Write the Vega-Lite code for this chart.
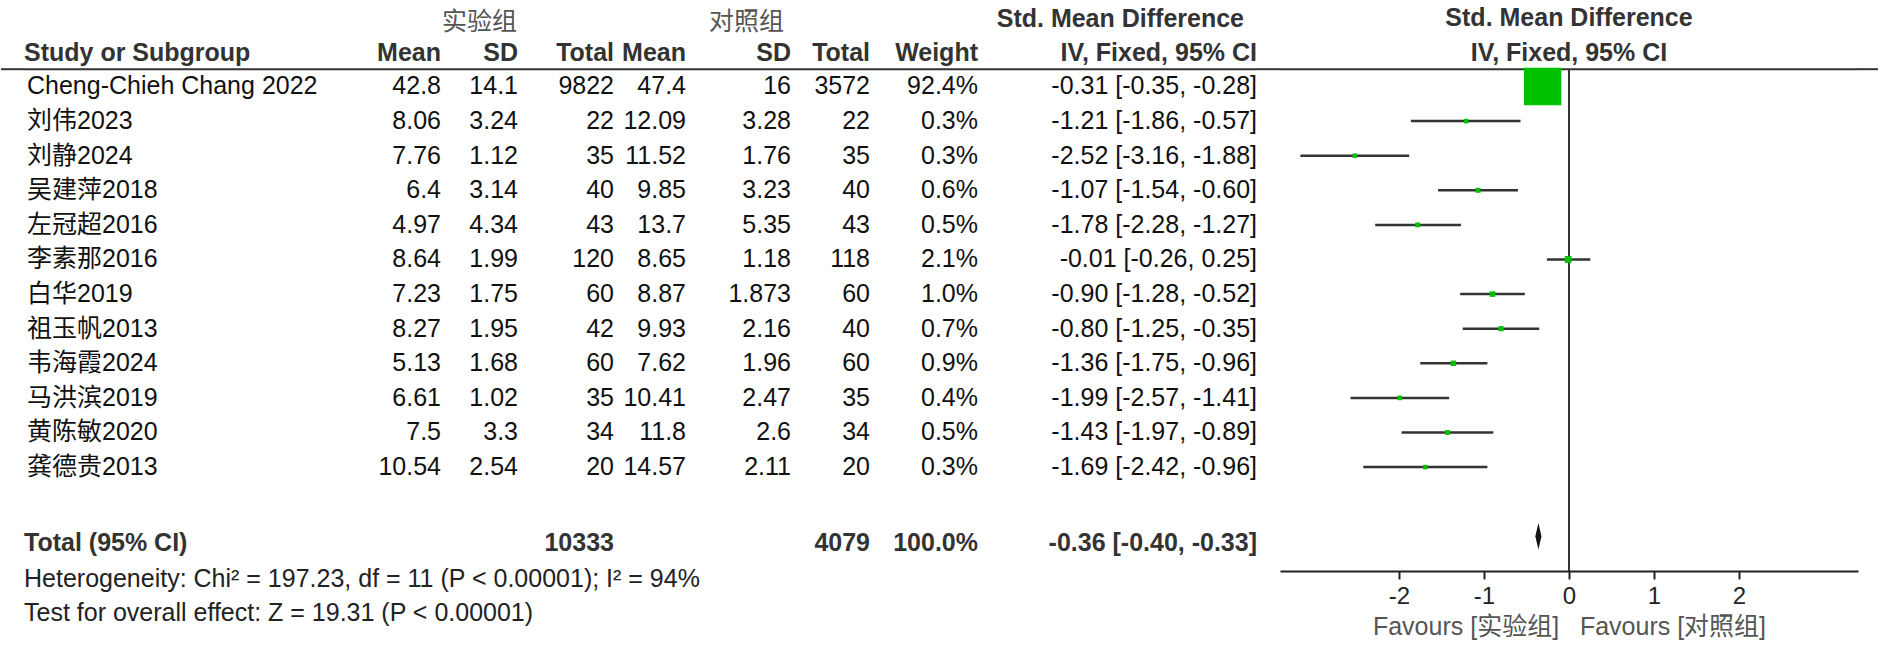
{
"$schema": "https://vega.github.io/schema/vega-lite/v6.json",
"background": "white",
"padding": 0,
"bounds": "flush",
"spacing": 0,
"config": {"view": {"stroke": null}, "text": {"font": "Liberation Sans, Noto Sans CJK SC"}},
"datasets": {
"studies": [
{"study":"Cheng-Chieh Chang 2022","em":42.8,"esd":14.1,"en":9822,"cm":47.4,"csd":16,"cn":3572,"w":0.924,"smd":-0.31,"lo":-0.35,"hi":-0.28,"ci":"-0.31 [-0.35, -0.28]"},
{"study":"刘伟2023","em":8.06,"esd":3.24,"en":22,"cm":12.09,"csd":3.28,"cn":22,"w":0.003,"smd":-1.21,"lo":-1.86,"hi":-0.57,"ci":"-1.21 [-1.86, -0.57]"},
{"study":"刘静2024","em":7.76,"esd":1.12,"en":35,"cm":11.52,"csd":1.76,"cn":35,"w":0.003,"smd":-2.52,"lo":-3.16,"hi":-1.88,"ci":"-2.52 [-3.16, -1.88]"},
{"study":"吴建萍2018","em":6.4,"esd":3.14,"en":40,"cm":9.85,"csd":3.23,"cn":40,"w":0.006,"smd":-1.07,"lo":-1.54,"hi":-0.6,"ci":"-1.07 [-1.54, -0.60]"},
{"study":"左冠超2016","em":4.97,"esd":4.34,"en":43,"cm":13.7,"csd":5.35,"cn":43,"w":0.005,"smd":-1.78,"lo":-2.28,"hi":-1.27,"ci":"-1.78 [-2.28, -1.27]"},
{"study":"李素那2016","em":8.64,"esd":1.99,"en":120,"cm":8.65,"csd":1.18,"cn":118,"w":0.021,"smd":-0.01,"lo":-0.26,"hi":0.25,"ci":"-0.01 [-0.26, 0.25]"},
{"study":"白华2019","em":7.23,"esd":1.75,"en":60,"cm":8.87,"csd":1.873,"cn":60,"w":0.01,"smd":-0.9,"lo":-1.28,"hi":-0.52,"ci":"-0.90 [-1.28, -0.52]"},
{"study":"祖玉帆2013","em":8.27,"esd":1.95,"en":42,"cm":9.93,"csd":2.16,"cn":40,"w":0.007,"smd":-0.8,"lo":-1.25,"hi":-0.35,"ci":"-0.80 [-1.25, -0.35]"},
{"study":"韦海霞2024","em":5.13,"esd":1.68,"en":60,"cm":7.62,"csd":1.96,"cn":60,"w":0.009,"smd":-1.36,"lo":-1.75,"hi":-0.96,"ci":"-1.36 [-1.75, -0.96]"},
{"study":"马洪滨2019","em":6.61,"esd":1.02,"en":35,"cm":10.41,"csd":2.47,"cn":35,"w":0.004,"smd":-1.99,"lo":-2.57,"hi":-1.41,"ci":"-1.99 [-2.57, -1.41]"},
{"study":"黄陈敏2020","em":7.5,"esd":3.3,"en":34,"cm":11.8,"csd":2.6,"cn":34,"w":0.005,"smd":-1.43,"lo":-1.97,"hi":-0.89,"ci":"-1.43 [-1.97, -0.89]"},
{"study":"龚德贵2013","em":10.54,"esd":2.54,"en":20,"cm":14.57,"csd":2.11,"cn":20,"w":0.003,"smd":-1.69,"lo":-2.42,"hi":-0.96,"ci":"-1.69 [-2.42, -0.96]"}
],
"total": [{"study":"Total (95% CI)","en":10333,"cn":4079,"w":1,"smd":-0.36,"lo":-0.4,"hi":-0.33,"ci":"-0.36 [-0.40, -0.33]"}],
"headers": [
{"row":"h1","col":"e_sd","label":"实验组"},
{"row":"h1","col":"c_sd","label":"对照组"},
{"row":"h1","col":"ci","label":"Std. Mean Difference"},
{"row":"h1","col":"forest","label":"Std. Mean Difference"},
{"row":"h2","col":"name","label":"Study or Subgroup"},
{"row":"h2","col":"e_mean","label":"Mean"},
{"row":"h2","col":"e_sd","label":"SD"},
{"row":"h2","col":"e_total","label":"Total"},
{"row":"h2","col":"c_mean","label":"Mean"},
{"row":"h2","col":"c_sd","label":"SD"},
{"row":"h2","col":"c_total","label":"Total"},
{"row":"h2","col":"weight","label":"Weight"},
{"row":"h2","col":"ci","label":"IV, Fixed, 95% CI"},
{"row":"h2","col":"forest","label":"IV, Fixed, 95% CI"}
],
"notes": [
{"row":"het","label":"Heterogeneity: Chi² = 197.23, df = 11 (P < 0.00001); I² = 94%"},
{"row":"test","label":"Test for overall effect: Z = 19.31 (P < 0.00001)"}
],
"one": [{}]
},
"hconcat": [
{"width": 23, "height": 656, "data": {"name": "one"}, "mark": {"type": "rule", "color": "#333", "strokeWidth": 2},
 "encoding": {"y": {"datum": "h2", "type": "nominal", "bandPosition": 1, "axis": null, "scale": {"type":"band","domain":["h1","h2","Cheng-Chieh Chang 2022","刘伟2023","刘静2024","吴建萍2018","左冠超2016","李素那2016","白华2019","祖玉帆2013","韦海霞2024","马洪滨2019","黄陈敏2020","龚德贵2013","gap","Total (95% CI)","het","test"],"paddingInner":0,"paddingOuter":0.48,"align":0}}}},
{"width": 347, "height": 656, "layer": [
 {"data": {"name": "headers"}, "transform": [{"filter": "datum.col === 'name'"}],
  "mark": {"type": "text", "align": "left", "baseline": "middle", "dy": 1, "fontSize": 25, "fontWeight": "bold", "color": "#333", "font": "Liberation Sans"},
  "encoding": {"x": {"value": 0}, "y": {"field": "row", "type": "nominal", "axis": null, "scale": {"type":"band","domain":["h1","h2","Cheng-Chieh Chang 2022","刘伟2023","刘静2024","吴建萍2018","左冠超2016","李素那2016","白华2019","祖玉帆2013","韦海霞2024","马洪滨2019","黄陈敏2020","龚德贵2013","gap","Total (95% CI)","het","test"],"paddingInner":0,"paddingOuter":0.48,"align":0}}, "text": {"field": "label"}}},
 {"data": {"name": "studies"},
  "mark": {"type": "text", "align": "left", "baseline": "middle", "dx": 3, "fontSize": 25, "color": "#111"},
  "encoding": {"x": {"value": 0}, "y": {"field": "study", "type": "nominal", "axis": null}, "text": {"field": "study"}}},
 {"data": {"name": "total"},
  "mark": {"type": "text", "align": "left", "baseline": "middle", "dy": 7, "fontSize": 25, "fontWeight": "bold", "color": "#333", "font": "Liberation Sans"},
  "encoding": {"x": {"value": 0}, "y": {"field": "study", "type": "nominal", "axis": null}, "text": {"field": "study"}}},
 {"data": {"name": "notes"},
  "mark": {"type": "text", "align": "left", "baseline": "middle", "dy": 8, "fontSize": 25, "color": "#222", "font": "Liberation Sans"},
  "encoding": {"x": {"value": 0}, "y": {"field": "row", "type": "nominal", "axis": null}, "text": {"field": "label"}}},
 {"data": {"name": "one"}, "mark": {"type": "rule", "color": "#333", "strokeWidth": 2},
  "encoding": {"y": {"datum": "h2", "type": "nominal", "bandPosition": 1, "axis": null}}}
]},
{"width": 70, "height": 656, "layer": [
 {"data": {"name": "headers"}, "transform": [{"filter": "datum.col === 'e_mean'"}],
  "mark": {"type": "text", "align": "right", "baseline": "middle", "dy": 1, "fontSize": 25, "fontWeight": "bold", "color": "#333", "font": "Liberation Sans"},
  "encoding": {"x": {"value": "width"}, "y": {"field": "row", "type": "nominal", "axis": null, "scale": {"type":"band","domain":["h1","h2","Cheng-Chieh Chang 2022","刘伟2023","刘静2024","吴建萍2018","左冠超2016","李素那2016","白华2019","祖玉帆2013","韦海霞2024","马洪滨2019","黄陈敏2020","龚德贵2013","gap","Total (95% CI)","het","test"],"paddingInner":0,"paddingOuter":0.48,"align":0}}, "text": {"field": "label"}}},
 {"data": {"name": "studies"},
  "mark": {"type": "text", "align": "right", "baseline": "middle", "fontSize": 25, "color": "#111"},
  "encoding": {"x": {"value": "width"}, "y": {"field": "study", "type": "nominal", "axis": null}, "text": {"field": "em", "type": "nominal"}}},
 {"data": {"name": "one"}, "mark": {"type": "rule", "color": "#333", "strokeWidth": 2},
  "encoding": {"y": {"datum": "h2", "type": "nominal", "bandPosition": 1, "axis": null}}}
]},
{"width": 77, "height": 656, "layer": [
 {"data": {"name": "headers"}, "transform": [{"filter": "datum.col === 'e_sd' && datum.row === 'h1'"}],
  "mark": {"type": "text", "align": "center", "baseline": "middle", "dy": 5, "fontSize": 25, "color": "#555", "font": "Noto Sans CJK SC"},
  "encoding": {"y": {"field": "row", "type": "nominal", "axis": null, "scale": {"type":"band","domain":["h1","h2","Cheng-Chieh Chang 2022","刘伟2023","刘静2024","吴建萍2018","左冠超2016","李素那2016","白华2019","祖玉帆2013","韦海霞2024","马洪滨2019","黄陈敏2020","龚德贵2013","gap","Total (95% CI)","het","test"],"paddingInner":0,"paddingOuter":0.48,"align":0}}, "text": {"field": "label"}}},
 {"data": {"name": "headers"}, "transform": [{"filter": "datum.col === 'e_sd' && datum.row === 'h2'"}],
  "mark": {"type": "text", "align": "right", "baseline": "middle", "dy": 1, "fontSize": 25, "fontWeight": "bold", "color": "#333", "font": "Liberation Sans"},
  "encoding": {"x": {"value": "width"}, "y": {"field": "row", "type": "nominal", "axis": null}, "text": {"field": "label"}}},
 {"data": {"name": "studies"},
  "mark": {"type": "text", "align": "right", "baseline": "middle", "fontSize": 25, "color": "#111"},
  "encoding": {"x": {"value": "width"}, "y": {"field": "study", "type": "nominal", "axis": null}, "text": {"field": "esd", "type": "nominal"}}},
 {"data": {"name": "one"}, "mark": {"type": "rule", "color": "#333", "strokeWidth": 2},
  "encoding": {"y": {"datum": "h2", "type": "nominal", "bandPosition": 1, "axis": null}}}
]},
{"width": 96, "height": 656, "layer": [
 {"data": {"name": "headers"}, "transform": [{"filter": "datum.col === 'e_total'"}],
  "mark": {"type": "text", "align": "right", "baseline": "middle", "dy": 1, "fontSize": 25, "fontWeight": "bold", "color": "#333", "font": "Liberation Sans"},
  "encoding": {"x": {"value": "width"}, "y": {"field": "row", "type": "nominal", "axis": null, "scale": {"type":"band","domain":["h1","h2","Cheng-Chieh Chang 2022","刘伟2023","刘静2024","吴建萍2018","左冠超2016","李素那2016","白华2019","祖玉帆2013","韦海霞2024","马洪滨2019","黄陈敏2020","龚德贵2013","gap","Total (95% CI)","het","test"],"paddingInner":0,"paddingOuter":0.48,"align":0}}, "text": {"field": "label"}}},
 {"data": {"name": "studies"},
  "mark": {"type": "text", "align": "right", "baseline": "middle", "fontSize": 25, "color": "#111"},
  "encoding": {"x": {"value": "width"}, "y": {"field": "study", "type": "nominal", "axis": null}, "text": {"field": "en", "type": "nominal"}}},
 {"data": {"name": "total"},
  "mark": {"type": "text", "align": "right", "baseline": "middle", "dy": 7, "fontSize": 25, "fontWeight": "bold", "color": "#333", "font": "Liberation Sans"},
  "encoding": {"x": {"value": "width"}, "y": {"field": "study", "type": "nominal", "axis": null}, "text": {"field": "en", "type": "nominal"}}},
 {"data": {"name": "one"}, "mark": {"type": "rule", "color": "#333", "strokeWidth": 2},
  "encoding": {"y": {"datum": "h2", "type": "nominal", "bandPosition": 1, "axis": null}}}
]},
{"width": 72, "height": 656, "layer": [
 {"data": {"name": "headers"}, "transform": [{"filter": "datum.col === 'c_mean'"}],
  "mark": {"type": "text", "align": "right", "baseline": "middle", "dy": 1, "fontSize": 25, "fontWeight": "bold", "color": "#333", "font": "Liberation Sans"},
  "encoding": {"x": {"value": "width"}, "y": {"field": "row", "type": "nominal", "axis": null, "scale": {"type":"band","domain":["h1","h2","Cheng-Chieh Chang 2022","刘伟2023","刘静2024","吴建萍2018","左冠超2016","李素那2016","白华2019","祖玉帆2013","韦海霞2024","马洪滨2019","黄陈敏2020","龚德贵2013","gap","Total (95% CI)","het","test"],"paddingInner":0,"paddingOuter":0.48,"align":0}}, "text": {"field": "label"}}},
 {"data": {"name": "studies"},
  "mark": {"type": "text", "align": "right", "baseline": "middle", "fontSize": 25, "color": "#111"},
  "encoding": {"x": {"value": "width"}, "y": {"field": "study", "type": "nominal", "axis": null}, "text": {"field": "cm", "type": "nominal"}}},
 {"data": {"name": "one"}, "mark": {"type": "rule", "color": "#333", "strokeWidth": 2},
  "encoding": {"y": {"datum": "h2", "type": "nominal", "bandPosition": 1, "axis": null}}}
]},
{"width": 105, "height": 656, "layer": [
 {"data": {"name": "headers"}, "transform": [{"filter": "datum.col === 'c_sd' && datum.row === 'h1'"}],
  "mark": {"type": "text", "align": "center", "baseline": "middle", "dy": 5, "dx": 8, "fontSize": 25, "color": "#555", "font": "Noto Sans CJK SC"},
  "encoding": {"y": {"field": "row", "type": "nominal", "axis": null, "scale": {"type":"band","domain":["h1","h2","Cheng-Chieh Chang 2022","刘伟2023","刘静2024","吴建萍2018","左冠超2016","李素那2016","白华2019","祖玉帆2013","韦海霞2024","马洪滨2019","黄陈敏2020","龚德贵2013","gap","Total (95% CI)","het","test"],"paddingInner":0,"paddingOuter":0.48,"align":0}}, "text": {"field": "label"}}},
 {"data": {"name": "headers"}, "transform": [{"filter": "datum.col === 'c_sd' && datum.row === 'h2'"}],
  "mark": {"type": "text", "align": "right", "baseline": "middle", "dy": 1, "fontSize": 25, "fontWeight": "bold", "color": "#333", "font": "Liberation Sans"},
  "encoding": {"x": {"value": "width"}, "y": {"field": "row", "type": "nominal", "axis": null}, "text": {"field": "label"}}},
 {"data": {"name": "studies"},
  "mark": {"type": "text", "align": "right", "baseline": "middle", "fontSize": 25, "color": "#111"},
  "encoding": {"x": {"value": "width"}, "y": {"field": "study", "type": "nominal", "axis": null}, "text": {"field": "csd", "type": "nominal"}}},
 {"data": {"name": "one"}, "mark": {"type": "rule", "color": "#333", "strokeWidth": 2},
  "encoding": {"y": {"datum": "h2", "type": "nominal", "bandPosition": 1, "axis": null}}}
]},
{"width": 79, "height": 656, "layer": [
 {"data": {"name": "headers"}, "transform": [{"filter": "datum.col === 'c_total'"}],
  "mark": {"type": "text", "align": "right", "baseline": "middle", "dy": 1, "fontSize": 25, "fontWeight": "bold", "color": "#333", "font": "Liberation Sans"},
  "encoding": {"x": {"value": "width"}, "y": {"field": "row", "type": "nominal", "axis": null, "scale": {"type":"band","domain":["h1","h2","Cheng-Chieh Chang 2022","刘伟2023","刘静2024","吴建萍2018","左冠超2016","李素那2016","白华2019","祖玉帆2013","韦海霞2024","马洪滨2019","黄陈敏2020","龚德贵2013","gap","Total (95% CI)","het","test"],"paddingInner":0,"paddingOuter":0.48,"align":0}}, "text": {"field": "label"}}},
 {"data": {"name": "studies"},
  "mark": {"type": "text", "align": "right", "baseline": "middle", "fontSize": 25, "color": "#111"},
  "encoding": {"x": {"value": "width"}, "y": {"field": "study", "type": "nominal", "axis": null}, "text": {"field": "cn", "type": "nominal"}}},
 {"data": {"name": "total"},
  "mark": {"type": "text", "align": "right", "baseline": "middle", "dy": 7, "fontSize": 25, "fontWeight": "bold", "color": "#333", "font": "Liberation Sans"},
  "encoding": {"x": {"value": "width"}, "y": {"field": "study", "type": "nominal", "axis": null}, "text": {"field": "cn", "type": "nominal"}}},
 {"data": {"name": "one"}, "mark": {"type": "rule", "color": "#333", "strokeWidth": 2},
  "encoding": {"y": {"datum": "h2", "type": "nominal", "bandPosition": 1, "axis": null}}}
]},
{"width": 108, "height": 656, "layer": [
 {"data": {"name": "headers"}, "transform": [{"filter": "datum.col === 'weight'"}],
  "mark": {"type": "text", "align": "right", "baseline": "middle", "dy": 1, "fontSize": 25, "fontWeight": "bold", "color": "#333", "font": "Liberation Sans"},
  "encoding": {"x": {"value": "width"}, "y": {"field": "row", "type": "nominal", "axis": null, "scale": {"type":"band","domain":["h1","h2","Cheng-Chieh Chang 2022","刘伟2023","刘静2024","吴建萍2018","左冠超2016","李素那2016","白华2019","祖玉帆2013","韦海霞2024","马洪滨2019","黄陈敏2020","龚德贵2013","gap","Total (95% CI)","het","test"],"paddingInner":0,"paddingOuter":0.48,"align":0}}, "text": {"field": "label"}}},
 {"data": {"name": "studies"},
  "mark": {"type": "text", "align": "right", "baseline": "middle", "fontSize": 25, "color": "#111"},
  "encoding": {"x": {"value": "width"}, "y": {"field": "study", "type": "nominal", "axis": null}, "text": {"field": "w", "type": "quantitative", "format": ".1%"}}},
 {"data": {"name": "total"},
  "mark": {"type": "text", "align": "right", "baseline": "middle", "dy": 7, "fontSize": 25, "fontWeight": "bold", "color": "#333", "font": "Liberation Sans"},
  "encoding": {"x": {"value": "width"}, "y": {"field": "study", "type": "nominal", "axis": null}, "text": {"field": "w", "type": "quantitative", "format": ".1%"}}},
 {"data": {"name": "one"}, "mark": {"type": "rule", "color": "#333", "strokeWidth": 2},
  "encoding": {"y": {"datum": "h2", "type": "nominal", "bandPosition": 1, "axis": null}}}
]},
{"width": 279, "height": 656, "layer": [
 {"data": {"name": "headers"}, "transform": [{"filter": "datum.col === 'ci' && datum.row === 'h1'"}],
  "mark": {"type": "text", "align": "right", "baseline": "middle", "dy": 2, "dx": -13, "fontSize": 25, "fontWeight": "bold", "color": "#333", "font": "Liberation Sans"},
  "encoding": {"x": {"value": "width"}, "y": {"field": "row", "type": "nominal", "axis": null, "scale": {"type":"band","domain":["h1","h2","Cheng-Chieh Chang 2022","刘伟2023","刘静2024","吴建萍2018","左冠超2016","李素那2016","白华2019","祖玉帆2013","韦海霞2024","马洪滨2019","黄陈敏2020","龚德贵2013","gap","Total (95% CI)","het","test"],"paddingInner":0,"paddingOuter":0.48,"align":0}}, "text": {"field": "label"}}},
 {"data": {"name": "headers"}, "transform": [{"filter": "datum.col === 'ci' && datum.row === 'h2'"}],
  "mark": {"type": "text", "align": "right", "baseline": "middle", "dy": 1, "fontSize": 25, "fontWeight": "bold", "color": "#333", "font": "Liberation Sans"},
  "encoding": {"x": {"value": "width"}, "y": {"field": "row", "type": "nominal", "axis": null}, "text": {"field": "label"}}},
 {"data": {"name": "studies"},
  "mark": {"type": "text", "align": "right", "baseline": "middle", "fontSize": 25, "color": "#111"},
  "encoding": {"x": {"value": "width"}, "y": {"field": "study", "type": "nominal", "axis": null}, "text": {"field": "ci", "type": "nominal"}}},
 {"data": {"name": "total"},
  "mark": {"type": "text", "align": "right", "baseline": "middle", "dy": 7, "fontSize": 25, "fontWeight": "bold", "color": "#333", "font": "Liberation Sans"},
  "encoding": {"x": {"value": "width"}, "y": {"field": "study", "type": "nominal", "axis": null}, "text": {"field": "ci", "type": "nominal"}}},
 {"data": {"name": "one"}, "mark": {"type": "rule", "color": "#333", "strokeWidth": 2},
  "encoding": {"y": {"datum": "h2", "type": "nominal", "bandPosition": 1, "axis": null}}}
]},
{"width": 23, "height": 656, "data": {"name": "one"}, "mark": {"type": "rule", "color": "#333", "strokeWidth": 2},
 "encoding": {"y": {"datum": "h2", "type": "nominal", "bandPosition": 1, "axis": null, "scale": {"type":"band","domain":["h1","h2","Cheng-Chieh Chang 2022","刘伟2023","刘静2024","吴建萍2018","左冠超2016","李素那2016","白华2019","祖玉帆2013","韦海霞2024","马洪滨2019","黄陈敏2020","龚德贵2013","gap","Total (95% CI)","het","test"],"paddingInner":0,"paddingOuter":0.48,"align":0}}}},
{"width": 578, "height": 656, "layer": [
 {"data": {"name": "headers"}, "transform": [{"filter": "datum.col === 'forest'"}],
  "mark": {"type": "text", "align": "center", "baseline": "middle", "dy": 1, "fontSize": 25, "fontWeight": "bold", "color": "#333", "font": "Liberation Sans"},
  "encoding": {"y": {"field": "row", "type": "nominal", "axis": null, "scale": {"type":"band","domain":["h1","h2","Cheng-Chieh Chang 2022","刘伟2023","刘静2024","吴建萍2018","左冠超2016","李素那2016","白华2019","祖玉帆2013","韦海霞2024","马洪滨2019","黄陈敏2020","龚德贵2013","gap","Total (95% CI)","het","test"],"paddingInner":0,"paddingOuter":0.48,"align":0}}, "text": {"field": "label"}}},
 {"data": {"name": "one"}, "mark": {"type": "rule", "color": "#333", "strokeWidth": 2},
  "encoding": {"y": {"datum": "h2", "type": "nominal", "bandPosition": 1, "axis": null}}},
 {"data": {"name": "studies"}, "mark": {"type": "rule", "color": "#333", "strokeWidth": 2.5},
  "encoding": {
   "x": {"field": "lo", "type": "quantitative", "title": "Favours [实验组]\u00a0\u00a0\u00a0Favours [对照组]", "scale": {"domain": [-3.4, 3.4], "nice": false, "zero": false},
         "axis": {"values": [-2, -1, 0, 1, 2], "labelExpr": "'' + datum.value", "offset": -85, "grid": false, "domainColor": "#222", "domainWidth": 2, "tickColor": "#222", "tickWidth": 2, "tickSize": 8, "labelFont": "Liberation Sans", "labelFontSize": 24, "labelColor": "#222", "labelPadding": 5, "labelFlush": false,
                  "titleFont": "Liberation Sans, Noto Sans CJK SC", "titleFontSize": 25, "titleFontWeight": "normal", "titleColor": "#555", "titlePadding": 6}},
   "x2": {"field": "hi"},
   "y": {"field": "study", "type": "nominal", "axis": null}}},
 {"data": {"name": "one"}, "mark": {"type": "rule", "color": "#333", "strokeWidth": 2},
  "encoding": {"x": {"datum": 0, "type": "quantitative", "title": "Favours [实验组]\u00a0\u00a0\u00a0Favours [对照组]"}, "y": {"datum": "h2", "type": "nominal", "bandPosition": 1, "axis": null}, "y2": {"datum": "het"}}},
 {"data": {"name": "studies"}, "mark": {"type": "point", "shape": "square", "filled": true, "color": "#00c000", "opacity": 1},
  "encoding": {"x": {"field": "smd", "type": "quantitative", "title": "Favours [实验组]\u00a0\u00a0\u00a0Favours [对照组]"}, "y": {"field": "study", "type": "nominal", "axis": null},
   "size": {"field": "w", "type": "quantitative", "scale": {"domain": [0, 0.924], "range": [16, 1400]}, "legend": null}}},
 {"data": {"name": "total"}, "mark": {"type": "point", "shape": "M-0.23,0L0,-1L0.23,0L0,1Z", "filled": true, "color": "#111", "opacity": 1, "size": 700},
  "encoding": {"x": {"field": "smd", "type": "quantitative", "title": "Favours [实验组]\u00a0\u00a0\u00a0Favours [对照组]"}, "y": {"field": "study", "type": "nominal", "axis": null}}}
]},
{"width": 21, "height": 656, "data": {"name": "one"}, "mark": {"type": "rule", "color": "#333", "strokeWidth": 2},
 "encoding": {"y": {"datum": "h2", "type": "nominal", "bandPosition": 1, "axis": null, "scale": {"type":"band","domain":["h1","h2","Cheng-Chieh Chang 2022","刘伟2023","刘静2024","吴建萍2018","左冠超2016","李素那2016","白华2019","祖玉帆2013","韦海霞2024","马洪滨2019","黄陈敏2020","龚德贵2013","gap","Total (95% CI)","het","test"],"paddingInner":0,"paddingOuter":0.48,"align":0}}}}
]
}
